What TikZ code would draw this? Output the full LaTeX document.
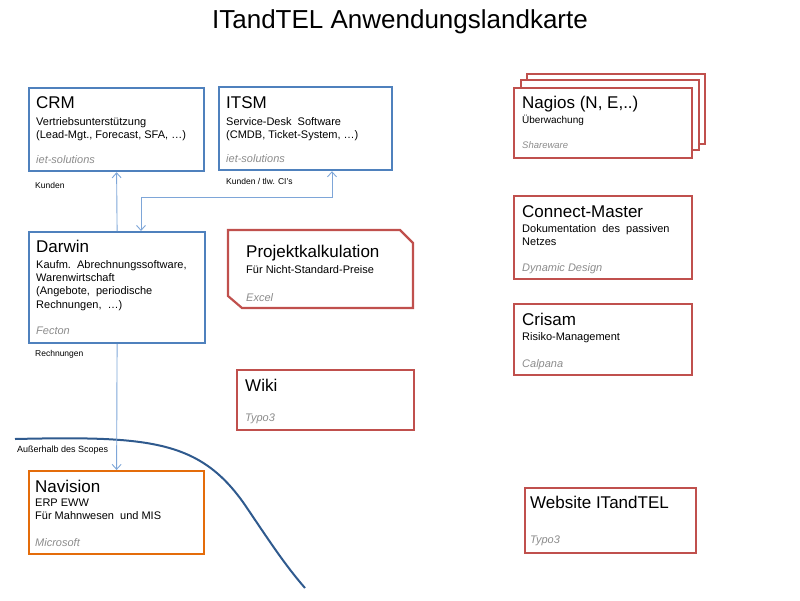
\documentclass[tikz,border=0pt]{standalone}
\usepackage{fontspec}
\setmainfont{Liberation Sans}
\usetikzlibrary{arrows.meta}
\definecolor{bblue}{HTML}{4F81BD}
\definecolor{rred}{HTML}{C0504D}
\definecolor{oorange}{HTML}{E46C0A}
\definecolor{cline}{HTML}{7EA6D8}
\definecolor{scope}{HTML}{2F5A8E}
\definecolor{ggray}{HTML}{8C8C8C}
\tikzset{
  box/.style={draw=#1, line width=2.2pt, fill=white, anchor=north west, inner sep=0pt},
  head/.style={anchor=base west, inner sep=0pt, font=\fontsize{17}{20}\selectfont},
  sub/.style={anchor=base west, inner sep=0pt, font=\fontsize{11}{13.5}\selectfont},
  vendor/.style={anchor=base west, inner sep=0pt, text=ggray, font=\fontsize{11}{13}\selectfont\itshape},
  lbl/.style={anchor=base west, inner sep=0pt, font=\fontsize{8.5}{10}\selectfont},
  conn/.style={draw=cline, line width=0.9pt, >={Straight Barb[length=5pt, width=9pt]}}
}
\begin{document}
\begin{tikzpicture}[x=1pt, y=-1pt]
\useasboundingbox (0,0) rectangle (800,600);
% title
\node[anchor=base, inner sep=0pt, font=\fontsize{26}{30}\selectfont] (title) at (400,28) {ITandTEL Anwendungslandkarte};

% scope curve
\coordinate (s0) at (15,439);
\coordinate (s1) at (305,588);
\draw[scope, line width=2pt] (s0) .. controls (150,436) and (200,440) .. (245,505) .. controls (270,542) and (285,565) .. (s1);
\node[lbl, font=\fontsize{9}{10}\selectfont] (outside) at (17,452) {Außerhalb des Scopes};

% blue boxes
\node[box=bblue, minimum width=175pt, minimum height=83pt] (crm) at (28,87) {};
\node[head] (crmh) at (36,108) {CRM};
\node[sub] (crms1) at (36,125) {Vertriebsunterstützung};
\node[sub] (crms2) at (36,138) {(Lead-Mgt., Forecast, SFA, \dots)};
\node[vendor] (crmv) at (36,163) {iet-solutions};

\node[box=bblue, minimum width=173pt, minimum height=83pt] (itsm) at (218,86) {};
\node[head] (itsmh) at (226,108) {ITSM};
\node[sub] (itsms1) at (226,125) {Service-Desk\ \ Software};
\node[sub] (itsms2) at (226,138) {(CMDB, Ticket-System, \dots)};
\node[vendor] (itsmv) at (226,162) {iet-solutions};

\node[box=bblue, minimum width=176pt, minimum height=111pt] (darwin) at (28,231) {};
\node[head] (darwinh) at (36,252) {Darwin};
\node[sub] (darwins1) at (36,268) {Kaufm.\ \ Abrechnungssoftware,};
\node[sub] (darwins2) at (36,281) {Warenwirtschaft};
\node[sub] (darwins3) at (36,294.5) {(Angebote,\ \ periodische};
\node[sub] (darwins4) at (36,308) {Rechnungen,\ \ \dots)};
\node[vendor] (darwinv) at (36,334) {Fecton};

% orange box
\node[box=oorange, minimum width=175pt, minimum height=83pt] (nav) at (28,470) {};
\node[head] (navh) at (35,492) {Navision};
\node[sub] (navs1) at (35,506) {ERP EWW};
\node[sub] (navs2) at (35,519.5) {Für Mahnwesen\ \ und MIS};
\node[vendor] (navv) at (35,546) {Microsoft};

% Projektkalkulation (cut corners)
\coordinate (p1) at (228,230);
\coordinate (p2) at (400,230);
\coordinate (p3) at (413,243);
\coordinate (p4) at (413,308);
\coordinate (p5) at (242,308);
\coordinate (p6) at (228,296);
\draw[rred, line width=2.2pt, fill=white, line join=miter] (p1) -- (p2) -- (p3) -- (p4) -- (p5) -- (p6) -- cycle;
\node[head] (projh) at (246,257) {Projektkalkulation};
\node[sub] (projs) at (246,273) {Für Nicht-Standard-Preise};
\node[vendor] (projv) at (246,301) {Excel};

% Wiki
\node[box=rred, minimum width=177pt, minimum height=60pt] (wiki) at (236,369) {};
\node[head] (wikih) at (245,391) {Wiki};
\node[vendor] (wikiv) at (245,421) {Typo3};

% Nagios stack
\node[box=rred, minimum width=178pt, minimum height=70pt] (nag3) at (526,73) {};
\node[box=rred, minimum width=178pt, minimum height=70pt] (nag2) at (520,79) {};
\node[box=rred, minimum width=178pt, minimum height=70pt] (nag) at (513,87) {};
\node[head] (nagh) at (522,108) {Nagios (N, E,..)};
\node[sub, font=\fontsize{10}{12}\selectfont] (nags) at (522,123) {Überwachung};
\node[vendor, font=\fontsize{9.5}{11}\selectfont\itshape] (nagv) at (522,148) {Shareware};

% Connect-Master
\node[box=rred, minimum width=178pt, minimum height=83pt] (cm) at (513,195) {};
\node[head] (cmh) at (522,217) {Connect-Master};
\node[sub] (cms1) at (522,232) {Dokumentation\ \ des\ \ passiven};
\node[sub] (cms2) at (522,245) {Netzes};
\node[vendor] (cmv) at (522,271) {Dynamic Design};

% Crisam
\node[box=rred, minimum width=178pt, minimum height=71pt] (cri) at (513,303) {};
\node[head] (crih) at (522,325) {Crisam};
\node[sub] (cris) at (522,340) {Risiko-Management};
\node[vendor] (criv) at (522,367) {Calpana};

% Website
\node[box=rred, minimum width=171pt, minimum height=65pt] (web) at (524,487) {};
\node[head] (webh) at (530,508) {Website ITandTEL};
\node[vendor] (webv) at (530,543) {Typo3};

% connectors
\coordinate (c1) at (332,197);
\coordinate (c2) at (141,197);
\draw[conn, <-] (crm.south) -- (darwin.north);
\draw[conn, <->] (itsm.south -| c1) -- (c1) -- (c2) -- (darwin.north -| c2);
\draw[conn, ->] (darwin.south) -- (nav.north);

% labels
\node[lbl] (lk) at (35,188) {Kunden};
\node[lbl] (lki) at (226,184) {Kunden / tlw. CI's};
\node[lbl] (lr) at (35,356) {Rechnungen};
\end{tikzpicture}
\end{document}
